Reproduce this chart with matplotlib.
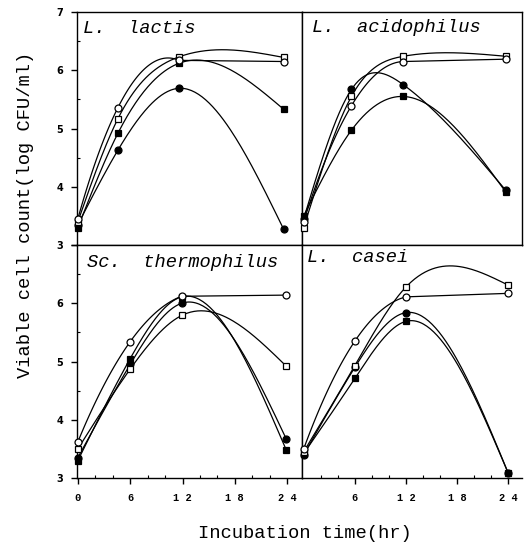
# Growth of four lactic acid bacteria in milk: viable count vs incubation time

import numpy as np
import matplotlib.pyplot as plt

# --- Data (log CFU/ml) ---
lactis_time = [0, 4.6, 11.6, 23.6]
lactis_oc = [3.45, 5.36, 6.17, 6.15]   # open circle
lactis_os = [3.40, 5.17, 6.23, 6.22]   # open square
lactis_fc = [3.35, 4.63, 5.69, 3.27]   # filled circle
lactis_fs = [3.30, 4.92, 6.12, 5.33]   # filled square

acido_time = [0, 5.6, 11.7, 23.7]
acido_oc = [3.40, 5.39, 6.15, 6.19]
acido_os = [3.30, 5.55, 6.24, 6.24]
acido_fc = [3.45, 5.67, 5.75, 3.94]
acido_fs = [3.50, 4.97, 5.55, 3.91]

thermo_time = [0, 6.0, 11.9, 23.9]
thermo_oc = [3.62, 5.34, 6.12, 6.14]
thermo_os = [3.50, 4.87, 5.79, 4.92]
thermo_fc = [3.35, 4.95, 6.00, 3.67]
thermo_fs = [3.30, 5.05, 6.11, 3.48]

casei_time = [0, 6.0, 12.0, 24.0]
casei_oc = [3.50, 5.35, 6.11, 6.17]
casei_os = [3.45, 4.93, 6.28, 6.31]
casei_fc = [3.40, 4.90, 5.84, 3.08]
casei_fs = [3.42, 4.71, 5.69, 3.08]

titles = ['L.  lactis', 'L.  acidophilus', 'Sc.  thermophilus', 'L.  casei']
panels = [
    (lactis_time, lactis_oc, lactis_os, lactis_fc, lactis_fs),
    (acido_time, acido_oc, acido_os, acido_fc, acido_fs),
    (thermo_time, thermo_oc, thermo_os, thermo_fc, thermo_fs),
    (casei_time, casei_oc, casei_os, casei_fc, casei_fs),
]


def spline(t, v, n=60):
    # natural cubic spline through the measured points
    t = np.asarray(t, float)
    v = np.asarray(v, float)
    k = len(t)
    h = np.diff(t)
    A = np.zeros((k, k))
    r = np.zeros(k)
    A[0, 0] = A[-1, -1] = 1
    for i in range(1, k - 1):
        A[i, i - 1] = h[i - 1]
        A[i, i] = 2 * (h[i - 1] + h[i])
        A[i, i + 1] = h[i]
        r[i] = 6 * ((v[i + 1] - v[i]) / h[i] - (v[i] - v[i - 1]) / h[i - 1])
    M = np.linalg.solve(A, r)
    xs, ys = [], []
    for i in range(k - 1):
        x = np.linspace(t[i], t[i + 1], n)
        a, b = t[i + 1] - x, x - t[i]
        y = (M[i] * a**3 + M[i + 1] * b**3) / (6 * h[i]) \
            + (v[i] / h[i] - M[i] * h[i] / 6) * a + (v[i + 1] / h[i] - M[i + 1] * h[i] / 6) * b
        xs.append(x)
        ys.append(y)
    return np.concatenate(xs), np.concatenate(ys)


def smooth(t, v, flat_end=False):
    # the open-circle series levels off: curve up to 12 h, then a straight line
    if flat_end:
        tt = np.linspace(t[0], t[2], 80)
        c = np.polyfit(t[:3], v[:3], 2)
        return np.r_[tt, t[3]], np.r_[np.polyval(c, tt), v[3]]
    return spline(t, v)


mono = 'Liberation Mono'
fig = plt.figure(figsize=(5.24, 5.48), dpi=100)

# axes boxes in figure fractions: [left, bottom, width, height]
boxes = [
    [0.1469, 0.5529, 0.4294, 0.4252],
    [0.5763, 0.5529, 0.4198, 0.4252],
    [0.1469, 0.1277, 0.4294, 0.4252],
    [0.5763, 0.1277, 0.4198, 0.4252],
]
xlims = [(-0.1, 25.7), (-0.2, 25.6), (-0.1, 25.7), (-0.2, 25.6)]
title_x = [0.025, 0.045, 0.045, 0.025]
title_y = [0.93, 0.935, 0.925, 0.945]

for i, (box, data) in enumerate(zip(boxes, panels)):
    ax = fig.add_axes(box)
    t, oc, os_, fc, fs = data

    # filled markers first so open (white) markers sit on top
    for vals, mk, face, flat in [(fc, 'o', 'black', False), (fs, 's', 'black', False),
                                 (os_, 's', 'white', False), (oc, 'o', 'white', True)]:
        xs, ys = smooth(t, vals, flat)
        ax.plot(xs, ys, color='black', lw=0.9, zorder=2)
        ax.plot(t, vals, ls='none', marker=mk, ms=5, mfc=face, mec='black',
                mew=0.9, zorder=3, clip_on=False)

    ax.set_xlim(*xlims[i])
    ax.set_ylim(3, 7)
    for s in ax.spines.values():
        s.set_linewidth(1.0)
    if i == 3:
        ax.spines['right'].set_visible(False)

    ax.text(title_x[i], title_y[i], titles[i], transform=ax.transAxes,
            family=mono, style='italic', fontsize=13.5, va='center', ha='left')

    # y axis only on the left column
    if i in (0, 2):
        ax.set_yticks([3, 4, 5, 6, 7])
        ax.set_yticklabels(['3', '4', '5', '6', '7'] if i == 0 else ['3', '4', '5', '6', ''])
        ax.set_yticks(np.arange(3.5, 7, 1.0), minor=True)
        ax.tick_params(axis='y', which='major', direction='out', length=4, width=1,
                       pad=6, labelsize=7)
        ax.tick_params(axis='y', which='minor', direction='in', length=2, width=0.8)
        for lab in ax.get_yticklabels():
            lab.set_fontweight('bold')
    else:
        ax.set_yticks([])

    # x axis labels only on the bottom row
    if i >= 2:
        ticks = [0, 6, 12, 18, 24] if i == 2 else [6, 12, 18, 24]
        ax.set_xticks(ticks)
        ax.set_xticklabels([' '.join(str(k)) for k in ticks])
        ax.set_xticks(np.arange(2, 25, 2), minor=True)
        ax.tick_params(axis='x', which='major', direction='out', length=4, width=1,
                       pad=7, labelsize=7.5)
        ax.tick_params(axis='x', which='minor', direction='in', length=2, width=0.8)
        for lab in ax.get_xticklabels():
            lab.set_fontweight('bold')
            lab.set_family(mono)
    else:
        ax.set_xticks([])

fig.text(0.582, 0.027, 'Incubation time(hr)', family=mono, fontsize=13.5,
         ha='center', va='center')
fig.text(0.048, 0.607, 'Viable cell count(log CFU/ml)', family=mono, fontsize=13.5,
         rotation=90, ha='center', va='center')

plt.savefig('out.png', dpi=100)
